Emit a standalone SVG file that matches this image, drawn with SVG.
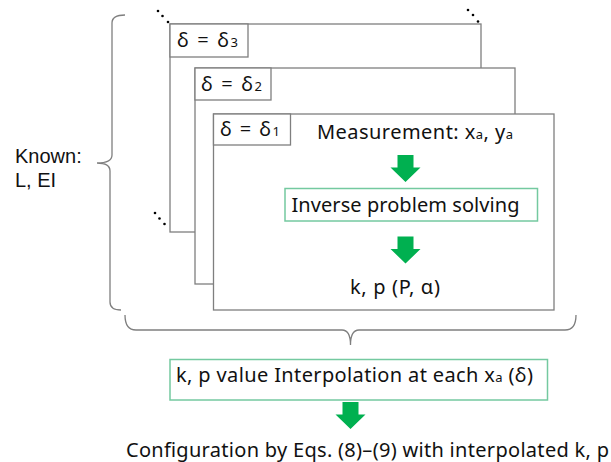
<svg xmlns="http://www.w3.org/2000/svg" width="611" height="462" viewBox="0 0 611 462">
<defs>
<style>
.box{fill:#fff;stroke:#7f7f7f;stroke-width:1.3}
.gbox{fill:#fff;stroke:#74c9a0;stroke-width:1.5}
.brace{fill:none;stroke:#7f7f7f;stroke-width:1.3}
.t{font-family:"Noto Sans","Open Sans",sans-serif;font-size:20px;fill:#111}
.k{font-family:"Liberation Sans",Arial,sans-serif;font-size:20px;fill:#111}
.sub{font-size:13px}
.dot{fill:#000}
.ga{fill:#00b050}
</style>
<path id="garrow" d="M-8,0 H8 V12.5 H15 L0,27 L-15,12.5 H-8 Z"/>
</defs>
<g id="known">
<text class="k" x="15" y="163">Known:</text>
<text class="k" x="15" y="187">L, EI</text>
</g>
<g id="connectors">
<path class="brace" d="M125,15 Q112,15 112,23 L112,155 Q112,163 97,163 Q110,163 110,171 L110,302 Q110,310 121,310"/>
<path class="brace" d="M125,315 Q125,330 136,330 L342,330 Q350.5,330 350.5,345 Q350.5,330 359,330 L565,330 Q576,330 576,315"/>
</g>
<g id="dots">
<circle class="dot" cx="158" cy="11" r="1.3"/><circle class="dot" cx="162.5" cy="16" r="1.3"/><circle class="dot" cx="168" cy="22" r="1.3"/>
<circle class="dot" cx="468" cy="10" r="1.3"/><circle class="dot" cx="473" cy="15" r="1.3"/><circle class="dot" cx="478" cy="21.5" r="1.3"/>
<circle class="dot" cx="155" cy="213" r="1.3"/><circle class="dot" cx="159.5" cy="218.5" r="1.3"/><circle class="dot" cx="164.5" cy="224" r="1.3"/>
</g>
<g id="case3">
<rect class="box" x="170" y="24" width="311" height="208"/>
<rect class="box" x="170" y="24" width="78" height="33"/>
<text class="t" x="177" y="47" textLength="61" lengthAdjust="spacing">δ = δ<tspan class="sub">3</tspan></text>
</g>
<g id="case2">
<rect class="box" x="195" y="68" width="320" height="216"/>
<rect class="box" x="195" y="68" width="76" height="32"/>
<text class="t" x="201" y="90.5" textLength="61" lengthAdjust="spacing">δ = δ<tspan class="sub">2</tspan></text>
</g>
<g id="case1">
<rect class="box" x="213.5" y="114" width="340.5" height="196"/>
<rect class="box" x="213.5" y="114" width="77" height="31"/>
<text class="t" x="220" y="135.5" textLength="60" lengthAdjust="spacing">δ = δ<tspan class="sub">1</tspan></text>
</g>
<g id="measurement">
<text class="t" x="317" y="139" textLength="196" lengthAdjust="spacing">Measurement: x<tspan class="sub">a</tspan>, y<tspan class="sub">a</tspan></text>
</g>
<g id="arrow1"><use href="#garrow" class="ga" transform="translate(405.5,155)"/></g>
<g id="inverse">
<rect class="gbox" x="285" y="188.5" width="252.5" height="32.5"/>
<text class="t" x="291.5" y="211.5" textLength="228" lengthAdjust="spacing">Inverse problem solving</text>
</g>
<g id="arrow2"><use href="#garrow" class="ga" transform="translate(405.5,236.5)"/></g>
<g id="result">
<text class="t" x="350" y="294" textLength="90" lengthAdjust="spacing">k, p (P, α)</text>
</g>
<g id="interp">
<rect class="gbox" x="170" y="359.5" width="377.5" height="40.5"/>
<text class="t" x="176" y="382" textLength="357" lengthAdjust="spacing">k, p value Interpolation at each x<tspan class="sub">a</tspan> (δ)</text>
</g>
<g id="arrow3"><use href="#garrow" class="ga" transform="translate(350.5,402)"/></g>
<g id="config">
<text class="t" x="126" y="456.5" textLength="483" lengthAdjust="spacing">Configuration by Eqs. (8)–(9) with interpolated k, p</text>
</g>
</svg>
